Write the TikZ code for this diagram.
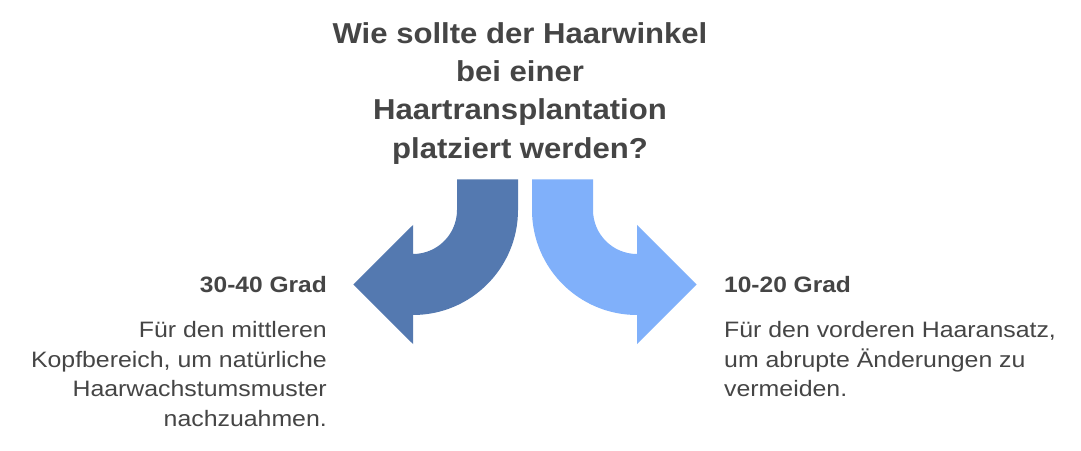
\documentclass[tikz,border=0pt]{standalone}
\usepackage{fontspec}
\setmainfont{Liberation Sans}
\newfontfamily\titlefont{Liberation Sans}[FakeStretch=1.08]
\newfontfamily\headfont{Liberation Sans}[FakeStretch=1.10]
\newfontfamily\bodyfont{Liberation Sans}[FakeStretch=1.115]
\definecolor{txt}{HTML}{454545}
\definecolor{arrowdark}{HTML}{5479B0}
\definecolor{arrowlight}{HTML}{80B0FA}
\begin{document}
\begin{tikzpicture}[x=1pt,y=1pt,
  titleline/.style={anchor=base,inner sep=0pt,text=txt,font=\titlefont\bfseries\fontsize{28.8}{38}\selectfont},
  headl/.style={anchor=base east,inner sep=0pt,text=txt,font=\headfont\bfseries\fontsize{22.3}{30}\selectfont},
  headr/.style={anchor=base west,inner sep=0pt,text=txt,font=\headfont\bfseries\fontsize{22.3}{30}\selectfont},
  bodyl/.style={anchor=base east,inner sep=0pt,text=txt,font=\bodyfont\fontsize{22.3}{30}\selectfont},
  bodyr/.style={anchor=base west,inner sep=0pt,text=txt,font=\bodyfont\fontsize{22.3}{30}\selectfont}]
\useasboundingbox (0,0) rectangle (1081,450);
\fill[white] (0,0) rectangle (1081,450);
% title
\node[titleline] (t1) at (520,406.7) {Wie sollte der Haarwinkel};
\node[titleline] (t2) at (520,368.4) {bei einer};
\node[titleline] (t3) at (520,330.1) {Haartransplantation};
\node[titleline] (t4) at (520,291.8) {platziert werden?};
% left arrow
\fill[arrowdark] (457,270.7) -- (518,270.7) -- (518,240)
  arc[start angle=0,end angle=-90,radius=105pt] -- (413,106) -- (353.3,165.5)
  -- (413,225) -- (413,196) arc[start angle=-90,end angle=0,radius=44pt] -- cycle;
% right arrow
\fill[arrowlight] (593,270.7) -- (532,270.7) -- (532,240)
  arc[start angle=180,end angle=270,radius=105pt] -- (637,106) -- (696.7,165.5)
  -- (637,225) -- (637,196) arc[start angle=270,end angle=180,radius=44pt] -- cycle;
% left text
\node[headl] (lh) at (327,157.5) {30-40 Grad};
\node[bodyl] (l1) at (327,112.5) {Für den mittleren};
\node[bodyl] (l2) at (327,82.8) {Kopfbereich, um natürliche};
\node[bodyl] (l3) at (327,53.1) {Haarwachstumsmuster};
\node[bodyl] (l4) at (327,23.4) {nachzuahmen.};
% right text
\node[headr] (rh) at (724,157.5) {10-20 Grad};
\node[bodyr] (r1) at (724,112.5) {Für den vorderen Haaransatz,};
\node[bodyr] (r2) at (724,82.8) {um abrupte Änderungen zu};
\node[bodyr] (r3) at (724,53.1) {vermeiden.};
\end{tikzpicture}
\end{document}
